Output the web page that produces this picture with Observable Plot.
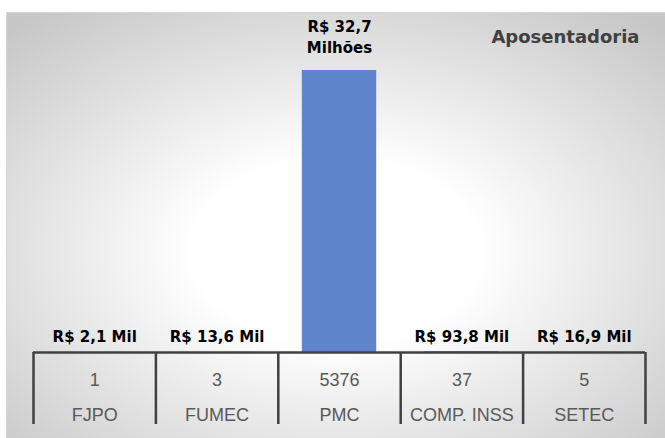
<!DOCTYPE html>
<html>
<head>
<meta charset="utf-8">
<script src="https://cdn.jsdelivr.net/npm/d3@7"></script>
<script src="https://cdn.jsdelivr.net/npm/@observablehq/plot@0.6"></script>
<style>
  html, body { margin: 0; padding: 0; background: #ffffff; }
  #chart svg { display: block; }
</style>
</head>
<body>
<svg width="0" height="0" style="position:absolute">
  <defs>
    <radialGradient id="bg" cx="0.5" cy="0.56" r="0.72">
      <stop offset="0" stop-color="#ffffff"/>
      <stop offset="0.3" stop-color="#ffffff"/>
      <stop offset="1" stop-color="#c6c6c6"/>
    </radialGradient>
  </defs>
</svg>
<div id="chart"></div>
<script>
const categories = ["FJPO", "FUMEC", "PMC", "COMP. INSS", "SETEC"];
const amounts = [2100, 13600, 32700000, 93800, 16900];   // R$
const counts = [1, 3, 5376, 37, 5];
const title = "Aposentadoria";

const data = categories.map((c, i) => ({i, cat: c, val: amounts[i], count: counts[i]}));
const fmt = v => v >= 1e6
  ? `R$ ${(v / 1e6).toFixed(1).replace(".", ",")}\nMilhões`
  : `R$ ${(v / 1e3).toFixed(1).replace(".", ",")} Mil`;
const boundaries = d3.range(categories.length + 1);

const bold = "DejaVu Sans, Liberation Sans, Arial, sans-serif";
const regular = "Liberation Sans, Arial, sans-serif";

const chart = Plot.plot({
  width: 665,
  height: 438,
  marginLeft: 6,
  marginTop: 12,
  marginRight: 0,
  marginBottom: 0,
  x: {type: "linear", domain: [0, categories.length], range: [33, 645], axis: null},
  y: {domain: [0, d3.max(amounts)], range: [352, 70], axis: null},
  marks: [
    Plot.frame({fill: "url(#bg)", stroke: "#d6d6d6"}),
    Plot.rectY(data, {x1: "i", x2: d => d.i + 1, y1: 0, y2: "val", fill: "#5f86cc", insetLeft: 24, insetRight: 24}),
    Plot.ruleX(boundaries, {x: d => d, y1: 0, y2: 0, insetBottom: -72, stroke: "#404040", strokeWidth: 2.5}),
    Plot.ruleY([0], {x1: 0, x2: categories.length, stroke: "#404040", strokeWidth: 2.5}),
    Plot.text(data.filter(d => d.val < 1e6), {x: d => d.i + 0.5, y: 0, text: d => fmt(d.val), lineAnchor: "bottom", dy: -11, fontSize: 15, fontWeight: "bold", fontFamily: bold, fill: "#000000"}),
    Plot.text(data.filter(d => d.val >= 1e6), {x: d => d.i + 0.5, y: "val", text: d => fmt(d.val), lineAnchor: "bottom", dy: -18, lineHeight: 1.4, fontSize: 15, fontWeight: "bold", fontFamily: bold, fill: "#000000"}),
    Plot.text(data, {x: d => d.i + 0.5, y: 0, text: d => String(d.count), lineAnchor: "bottom", dy: 33, fontSize: 18, fontFamily: regular, fill: "#595959"}),
    Plot.text(data, {x: d => d.i + 0.5, y: 0, text: "cat", lineAnchor: "bottom", dy: 68, fontSize: 18, fontFamily: regular, fill: "#595959"}),
    Plot.text([title], {frameAnchor: "top-right", text: d => d, textAnchor: "end", lineAnchor: "bottom", dx: -26, dy: 30, fontSize: 18, fontWeight: "bold", fontFamily: bold, fill: "#404040"})
  ]
});
document.getElementById("chart").appendChild(chart);
</script>
</body>
</html>
